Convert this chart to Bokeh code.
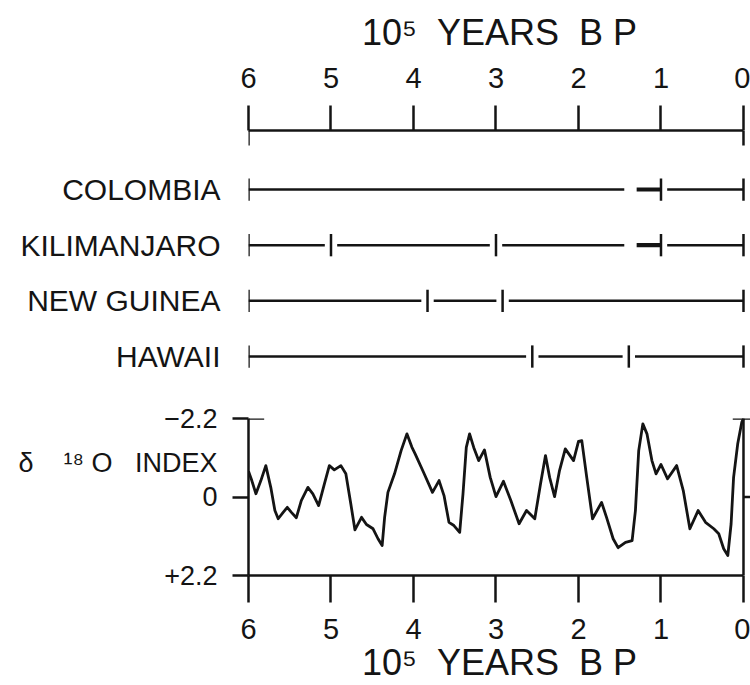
from bokeh.plotting import figure
from bokeh.models import Range1d, FixedTicker, ColumnDataSource, LinearAxis
from bokeh.layouts import column
from bokeh.embed import file_html
from bokeh.resources import INLINE

NB = "\u00a0"  # non-breaking space (SVG text collapses ordinary runs of spaces)

# ---------------- data ----------------
age_ticks = [6, 5, 4, 3, 2, 1, 0]
axis_title = "10\u2075" + NB * 2 + "YEARS" + NB * 2 + "B" + NB + "P"

sites = ["COLOMBIA", "KILIMANJARO", "NEW" + NB + "GUINEA", "HAWAII"]
site_ticks = [
    [6, 1.0, 0],
    [6, 5.0, 3.0, 1.0, 0],
    [6, 3.83, 2.92, 0],
    [6, 2.56, 1.39, 0],
]
site_breaks = [[1.37], [1.37], [], []]               # breaks in the line without a tick
site_bold = [[(1.37, 1.0)], [(1.37, 1.0)], [], []]   # intervals drawn heavier

d18o_ticks = [-2.2, 0, 2.2]
d18o_labels = ["\u22122.2", "0", "+2.2"]
d18o_title = "\u03b4" + NB * 4 + "\u00b9\u2078" + NB + "O" + NB * 3 + "INDEX"
d18o_title_pos = -0.94

age = [6.00, 5.96, 5.91, 5.85, 5.79, 5.73, 5.68, 5.64, 5.58, 5.53, 5.48, 5.42,
       5.36, 5.28, 5.22, 5.15, 5.08, 5.02, 4.96, 4.88, 4.82, 4.76, 4.71, 4.63,
       4.57, 4.49, 4.43, 4.38, 4.35, 4.31, 4.23, 4.15, 4.08, 4.02, 3.98, 3.88,
       3.77, 3.69, 3.63, 3.57, 3.51, 3.44, 3.40, 3.36, 3.32, 3.27, 3.21, 3.14,
       3.07, 3.00, 2.91, 2.82, 2.72, 2.63, 2.53, 2.46, 2.40, 2.35, 2.29, 2.23,
       2.16, 2.06, 2.00, 1.96, 1.90, 1.83, 1.72, 1.66, 1.58, 1.52, 1.43, 1.35,
       1.31, 1.27, 1.22, 1.17, 1.11, 1.06, 1.00, 0.92, 0.81, 0.73, 0.65, 0.55,
       0.46, 0.36, 0.30, 0.24, 0.19, 0.15, 0.12, 0.07, 0.02, 0.00]
d18o = [-0.72, -0.46, -0.09, -0.46, -0.88, -0.27, 0.38, 0.61, 0.43, 0.29, 0.43, 0.58,
        0.10, -0.27, -0.09, 0.24, -0.37, -0.88, -0.76, -0.88, -0.65, 0.19, 0.92, 0.57,
        0.77, 0.89, 1.17, 1.36, 0.57, -0.13, -0.65, -1.30, -1.77, -1.40, -1.21, -0.70,
        -0.13, -0.46, -0.04, 0.71, 0.80, 0.99, -0.09, -1.39, -1.77, -1.39, -1.02, -1.32,
        -0.55, -0.01, -0.44, 0.10, 0.75, 0.38, 0.61, -0.37, -1.16, -0.55, -0.01, -0.74,
        -1.35, -1.02, -1.56, -1.58, -0.55, 0.61, 0.15, 0.57, 1.17, 1.42, 1.27, 1.22,
        0.38, -1.30, -2.05, -1.77, -1.02, -0.65, -0.91, -0.51, -0.88, -0.18, 0.89, 0.38,
        0.71, 0.89, 1.03, 1.45, 1.64, 0.75, -0.55, -1.49, -2.10, -2.20]

# ---------------- style ----------------
FONT = "Liberation Sans"
INK = "#141414"
LW = 2.5
GAP = 0.075


def style_axis(ax, size):
    ax.axis_line_color = INK
    ax.axis_line_width = LW
    ax.major_tick_line_color = INK
    ax.major_tick_line_width = LW
    ax.minor_tick_line_color = None
    ax.major_label_text_font = FONT
    ax.major_label_text_font_size = size
    ax.major_label_text_color = INK
    ax.axis_label_text_font = FONT
    ax.axis_label_text_font_style = "normal"
    ax.axis_label_text_color = INK


x_range = Range1d(6.0, -0.085)

# ---------------- top panel: site records ----------------
pa = figure(width=750, height=395, x_range=x_range, y_range=Range1d(3.70, -1.06),
            x_axis_location="above", output_backend="svg", toolbar_location=None,
            min_border_left=248, min_border_right=0, min_border_top=130,
            min_border_bottom=0)
pa.grid.visible = False
pa.outline_line_color = None

xa = pa.xaxis[0]
style_axis(xa, "29px")
xa.ticker = FixedTicker(ticks=age_ticks)
xa.bounds = (age_ticks[0], age_ticks[-1])
xa.major_tick_out = 25
xa.major_tick_in = 0
xa.major_label_standoff = 18
xa.axis_label = axis_title
xa.axis_label_text_font_size = "36px"
xa.axis_label_standoff = 12

ya = pa.yaxis[0]
style_axis(ya, "30px")
ya.axis_line_color = None
ya.major_tick_line_color = None
ya.major_tick_out = 0
ya.major_tick_in = 0
ya.ticker = FixedTicker(ticks=list(range(len(sites))))
ya.major_label_overrides = {i: s for i, s in enumerate(sites)}
ya.major_label_standoff = 28

# end ticks hanging below the top scale
ytop = pa.y_range.end
pa.segment(x0=[age_ticks[0], age_ticks[-1]], y0=[ytop, ytop],
           x1=[age_ticks[0], age_ticks[-1]], y1=[ytop + 0.27, ytop + 0.27],
           line_color=INK, line_width=LW)

seg = dict(x0=[], x1=[], y=[], w=[])
tks = dict(x=[], y0=[], y1=[])
for i, name in enumerate(sites):
    ticks = site_ticks[i]
    pts = sorted(set(ticks + site_breaks[i]), reverse=True)
    for a, b in zip(pts[:-1], pts[1:]):
        bold = any(abs(a - s) < 1e-9 and abs(b - e) < 1e-9 for s, e in site_bold[i])
        x0 = a - (GAP if a != pts[0] else 0)
        x1 = b + (GAP if (b != pts[-1] and not bold) else 0)
        seg["x0"].append(x0)
        seg["x1"].append(x1)
        seg["y"].append(i)
        seg["w"].append(4.2 if bold else LW)
    for t in ticks:
        tks["x"].append(t)
        tks["y0"].append(i - 0.2)
        tks["y1"].append(i + 0.2)

pa.segment(x0="x0", y0="y", x1="x1", y1="y", line_width="w", line_color=INK,
           line_cap="butt", source=ColumnDataSource(seg))
pa.segment(x0="x", y0="y0", x1="x", y1="y1", line_width=LW, line_color=INK,
           source=ColumnDataSource(tks))

# ---------------- bottom panel: d18O ----------------
pb = figure(width=750, height=290, x_range=x_range, y_range=Range1d(2.2, -2.2),
            output_backend="svg", toolbar_location=None,
            min_border_left=248, min_border_right=0, min_border_top=23,
            min_border_bottom=110)
pb.grid.visible = False
pb.outline_line_color = None

xb = pb.xaxis[0]
style_axis(xb, "29px")
xb.ticker = FixedTicker(ticks=age_ticks)
xb.bounds = (age_ticks[0], age_ticks[-1])
xb.major_tick_out = 27
xb.major_tick_in = 0
xb.major_label_standoff = 16
xb.axis_label = axis_title
xb.axis_label_text_font_size = "36px"
xb.axis_label_standoff = 0

# inner left axis: line and tick marks only
yb = pb.yaxis[0]
style_axis(yb, "1px")
yb.ticker = FixedTicker(ticks=d18o_ticks)
yb.major_label_overrides = {t: "" for t in d18o_ticks}
yb.major_tick_out = 16
yb.major_tick_in = 0
yb.major_label_standoff = 0

# outer left axis: the labels
lab_ticks = d18o_ticks[:1] + [d18o_title_pos] + d18o_ticks[1:]
lab_text = {t: l for t, l in zip(d18o_ticks, d18o_labels)}
lab_text[d18o_title_pos] = d18o_title
yl = LinearAxis(ticker=FixedTicker(ticks=lab_ticks), major_label_overrides=lab_text)
style_axis(yl, "27px")
yl.axis_line_color = None
yl.major_tick_line_color = None
yl.major_tick_out = 0
yl.major_tick_in = 0
yl.major_label_standoff = 15
pb.add_layout(yl, "left")

top = d18o_ticks[0]
bot = d18o_ticks[-1]
xr = x_range.end
pb.segment(x0=[age_ticks[-1], age_ticks[0], 0.13, age_ticks[-1]],
           y0=[top, top, top, 0],
           x1=[age_ticks[-1], 5.81, xr, xr],
           y1=[bot, top, top, 0],
           line_color=INK, line_width=LW)

pb.line(age, d18o, line_width=2.8, line_color=INK, line_join="round")

layout = column(pa, pb)
open("out.html", "w").write(file_html(layout, INLINE))
